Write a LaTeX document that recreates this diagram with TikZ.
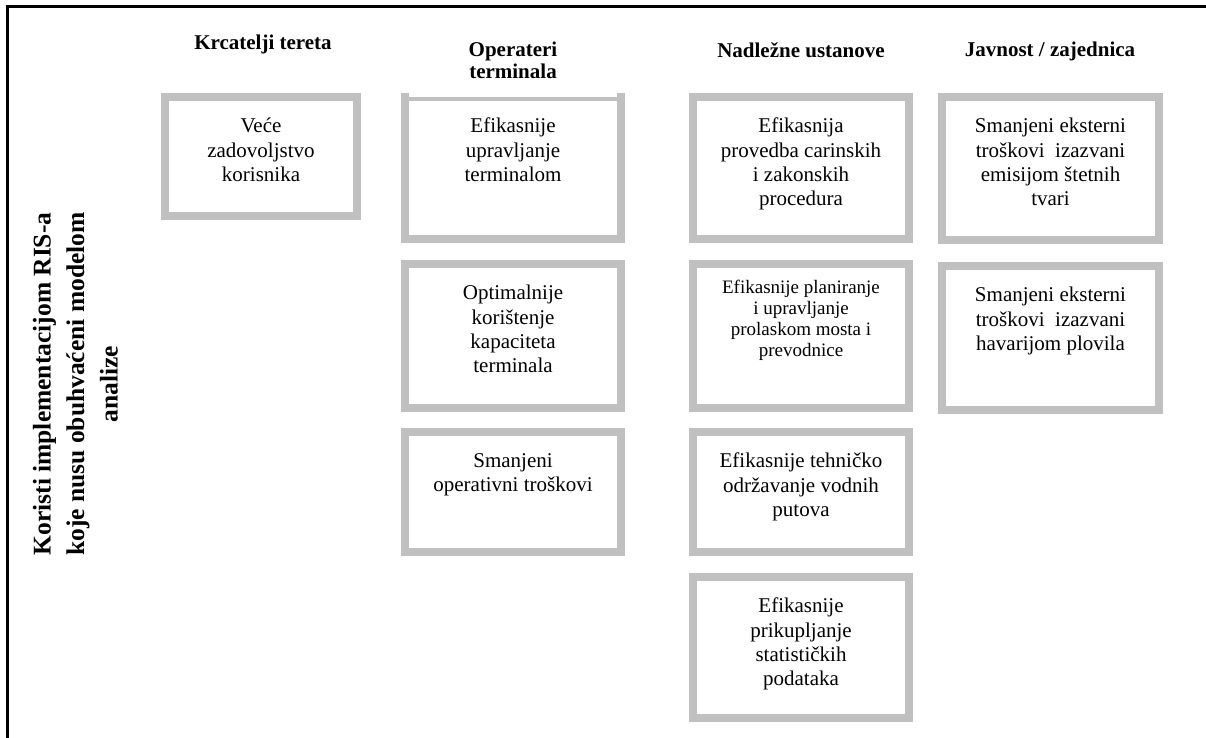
\documentclass[tikz,border=0pt]{standalone}
\usepackage{fontspec}
\setmainfont{Liberation Serif}
\definecolor{boxgray}{HTML}{C0C0C0}
\tikzset{
  box/.style={draw=boxgray, line width=8pt, fill=white, inner sep=0pt, outer sep=0pt, anchor=north west},
  txt/.style={align=center, inner sep=0pt, anchor=north, font=\fontsize{21}{24.3}\selectfont},
  smalltxt/.style={align=center, inner sep=0pt, anchor=north, font=\fontsize{19}{21}\selectfont},
  head/.style={align=center, inner sep=0pt, anchor=north, font=\fontsize{21}{21.5}\selectfont\bfseries},
  frame/.style={line width=3pt, line cap=rect},
}
\newcommand\mybox[6]{%
  \node[box, minimum width=#4pt-#2pt-8pt, minimum height=#5pt-#3pt-8pt] (#1) at (#2+4,#3+4) {};
}
\begin{document}
\begin{tikzpicture}[x=1pt,y=-1pt]
\useasboundingbox (0,0) rectangle (1206,738);
% outer frame (partial)
\coordinate (fb) at (7.5,740);
\coordinate (fc) at (7.5,6.5);
\coordinate (fr) at (1208,6.5);
\draw[frame] (fb) -- (fc) -- (fr);

% headers
\node[head] (h1) at (263,35) {Krcatelji tereta};
\node[head] (h2) at (513,42) {Operateri\\terminala};
\node[head] (h3) at (801,42) {Nadležne ustanove};
\node[head] (h4) at (1050,42) {Javnost / zajednica};

% column 1
\mybox{a1}{161}{93}{361}{220}{}
\node[txt] (ta1) at ([yshift=-21pt]a1.north) {Veće\\zadovoljstvo\\korisnika};

% column 2
\mybox{b1}{401}{93}{625}{243}{}
\fill[white] (409,92) rectangle (617,96.7);
\node[txt] (tb1) at ([yshift=-21pt]b1.north) {Efikasnije\\upravljanje\\terminalom};
\mybox{b2}{401}{260}{625}{412}{}
\node[txt] (tb2) at ([yshift=-21pt]b2.north) {Optimalnije\\korištenje\\kapaciteta\\terminala};
\mybox{b3}{401}{428}{625}{556}{}
\node[txt] (tb3) at ([yshift=-21pt]b3.north) {Smanjeni\\operativni troškovi};

% column 3
\mybox{c1}{689}{93}{913}{243}{}
\node[txt] (tc1) at ([yshift=-21pt]c1.north) {Efikasnija\\provedba carinskih\\i zakonskih\\procedura};
\mybox{c2}{689}{260}{913}{412}{}
\node[smalltxt] (tc2) at ([yshift=-16pt]c2.north) {Efikasnije planiranje\\i upravljanje\\prolaskom mosta i\\prevodnice};
\mybox{c3}{689}{428}{913}{556}{}
\node[txt] (tc3) at ([yshift=-21pt]c3.north) {Efikasnije tehničko\\održavanje vodnih\\putova};
\mybox{c4}{689}{573}{913}{722}{}
\node[txt] (tc4) at ([yshift=-21pt]c4.north) {Efikasnije\\prikupljanje\\statističkih\\podataka};

% column 4
\mybox{d1}{938}{93}{1163}{244}{}
\node[txt] (td1) at ([yshift=-21pt]d1.north) {Smanjeni eksterni\\troškovi\ \ izazvani\\emisijom štetnih\\tvari};
\mybox{d2}{938}{262}{1163}{414}{}
\node[txt] (td2) at ([yshift=-21pt]d2.north) {Smanjeni eksterni\\troškovi\ \ izazvani\\havarijom plovila};

% rotated side label
\node[align=center, inner sep=0pt, rotate=90, font=\fontsize{25.5}{33.5}\selectfont\bfseries] (side) at (75.5,384)
  {Koristi implementacijom RIS-a\\koje nusu obuhvaćeni modelom\\analize};
\end{tikzpicture}
\end{document}
